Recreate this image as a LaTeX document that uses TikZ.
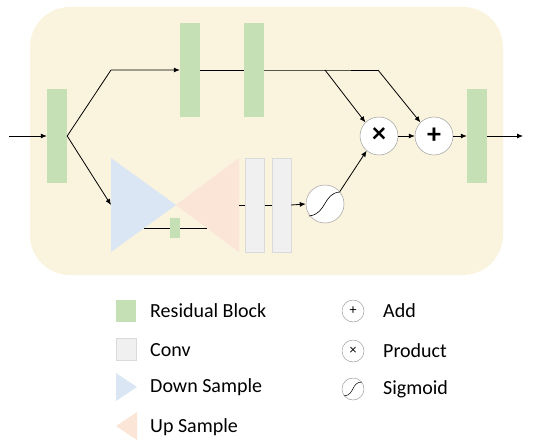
\documentclass[tikz,border=0pt]{standalone}
\usepackage{fontspec}
\setmainfont{Carlito}
\usetikzlibrary{arrows.meta}
\definecolor{bgc}{RGB}{250,243,222}
\definecolor{resg}{RGB}{197,224,180}
\definecolor{convc}{RGB}{240,240,240}
\definecolor{convb}{RGB}{218,218,218}
\definecolor{downc}{RGB}{218,230,243}
\definecolor{upc}{RGB}{251,229,214}
\definecolor{circb}{RGB}{160,160,160}
\tikzset{
  resblock/.style={rectangle, fill=resg, draw=none, inner sep=0pt, minimum width=20pt, minimum height=94pt},
  convblock/.style={rectangle, fill=convc, draw=convb, line width=0.4pt, inner sep=0pt, minimum width=19pt, minimum height=94pt},
  opcirc/.style={circle, fill=white, draw=circb, line width=0.5pt, inner sep=0pt, minimum size=38pt, font=\fontsize{28}{28}\selectfont\bfseries},
  legcirc/.style={circle, fill=white, draw=circb, line width=0.5pt, inner sep=0pt, minimum size=22pt, font=\fontsize{14}{14}\selectfont},
  conn/.style={line width=0.8pt, black},
  arr/.style={conn, -{Latex[length=6pt,width=5pt]}},
  legtext/.style={anchor=west, inner sep=0pt, font=\fontsize{20}{22}\selectfont},
}
\begin{document}
\begin{tikzpicture}[x=1pt,y=-1pt]
\useasboundingbox (0,0) rectangle (545,441);
\fill[bgc, rounded corners=40pt] (30,7) rectangle (503,275);

% blocks
\node[resblock] (r0) at (57,136) {};
\node[resblock] (r1) at (190,70) {};
\node[resblock] (r2) at (254,70) {};
\node[resblock] (r3) at (477,136) {};
\node[opcirc] (prod) at (379,136) {\raisebox{1pt}{×}};
\node[opcirc] (add) at (434,136) {+};

% triangles
\coordinate (dsin) at (111,205);
\coordinate (apex) at (176,205);
\coordinate (usout) at (239,205);
\fill[downc] (111,158) -- (apex) -- (111,252) -- cycle;
\fill[upc] (239,158) -- (apex) -- (239,252) -- cycle;
\node[rectangle, fill=resg, inner sep=0pt, minimum width=10pt, minimum height=20pt] (rs) at (175,228) {};
\coordinate (la) at (144,228);
\coordinate (lb) at (207,228);
\draw[conn] (la) -- (rs.west);
\draw[conn] (rs.east) -- (lb);

\node[convblock] (c1) at (255,205) {};
\node[convblock] (c2) at (281.5,205) {};
\node[circle, fill=white, draw=circb, line width=0.5pt, inner sep=0pt, minimum size=38pt] (sig) at (325,204) {};
\draw[line width=0.6pt] (309,216) .. controls (327,214) and (323,193) .. (340,192);

% input/output
\coordinate (in) at (9,136);
\coordinate (out) at (523,136);
\draw[arr] (in) -- (r0.west);
\draw[arr] (r3.east) -- (out);

% top path
\coordinate (k1) at (111,70);
\coordinate (s1) at (325,70);
\coordinate (s2) at (378,70);
\draw[arr] (r0.east) -- (k1) -- (r1.west);
\draw[conn] (r1.east) -- (r2.west);
\draw[conn] (r2.east) -- (s1) -- (s2);
\draw[arr] (s1) -- (prod.135);
\draw[arr] (s2) -- (add.135);

% lower path
\draw[arr] (r0.east) -- (dsin);
\draw[conn] (usout) -- (c1.west);
\draw[conn] (c1.east) -- (c2.west);
\draw[arr] (c2.east) -- (sig.west);
\draw[arr] (sig.40) -- (prod.-130);
\draw[arr] (prod.east) -- (add.west);
\draw[arr] (add.east) -- (r3.west);

% legend
\node[rectangle, fill=resg, inner sep=0pt, minimum width=20pt, minimum height=22pt] (lg1) at (126,311) {};
\node[legtext] (lt1) at (150,311) {Residual Block};
\node[rectangle, fill=convc, draw=convb, line width=0.4pt, inner sep=0pt, minimum width=20pt, minimum height=22pt] (lg2) at (126,349) {};
\node[legtext] (lt2) at (150,350) {Conv};
\fill[downc] (116,373) -- (137,387) -- (116,401) -- cycle;
\node[legtext] (lt3) at (150,387) {Down Sample};
\fill[upc] (137,412) -- (116,426) -- (137,440) -- cycle;
\node[legtext] (lt4) at (150,427) {Up Sample};

\node[legcirc] (la1) at (353,311) {+};
\node[legtext] (lt5) at (383,311) {Add};
\node[legcirc] (la2) at (353,351) {×};
\node[legtext] (lt6) at (383,351) {Product};
\node[legcirc] (la3) at (353,389) {};
\draw[line width=0.5pt] (344,396) .. controls (355,395) and (351,382) .. (362,382);
\node[legtext] (lt7) at (383,389) {Sigmoid};
\end{tikzpicture}
\end{document}
